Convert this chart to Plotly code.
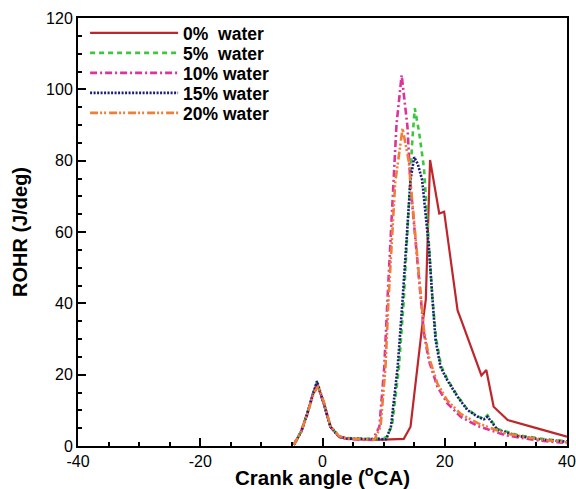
import plotly.graph_objects as go

# ---- data ----
x_0 = [-4.7, -3.5, -2.5, -1.5, -0.9, 0.2, 1.3, 2.7, 4, 6, 8, 10, 12, 13.3, 14.4, 15.5, 16.3, 16.9, 17.3, 17.6,
       19.1, 19.9, 22.1, 22.7, 26.0, 26.8, 28.0, 30.3, 35, 40]
y_0 = [0.3, 4, 9, 15, 17.6, 12, 5.4, 2.6, 2.0, 1.8, 1.8, 1.8, 1.8, 2.0, 5.4, 22, 33.5, 41, 65, 80.2,
       65.2, 65.7, 38, 35.3, 19.8, 21.3, 11, 7.3, 5.0, 2.6]

x_5 = [-4.7, -3.5, -2.5, -1.5, -0.9, 0.2, 1.3, 2.7, 4, 6, 8, 10, 10.6, 11.4, 12.5, 13.3, 14.7, 15.1, 15.8, 16.6,
       17.0, 17.4, 18.0, 18.6, 19.4, 20.4, 22.1, 23.7, 25.4, 26.4, 27.0, 28.6, 32, 36, 40]
y_5 = [0.3, 4, 9, 15, 17.8, 12, 5.4, 2.6, 2.2, 2.0, 2.0, 2.2, 2.6, 6, 22, 41, 86, 94.7, 88, 78,
       68, 56, 41, 30, 22.5, 18.8, 14, 10.3, 8.3, 7.6, 8.6, 4.8, 3.0, 2.0, 1.3]

x_10 = [-4.7, -3.5, -2.5, -1.5, -0.8, 0.2, 1.3, 2.7, 4, 6, 8.2, 9.3, 10.1, 10.6, 11.7, 12.1, 12.95, 13.9, 14.4,
        15.3, 16.1, 16.6, 17.4, 18.8, 20.4, 22.6, 25.4, 30, 35, 40]
y_10 = [0.3, 4, 9, 15, 17.0, 12, 5.4, 2.6, 2.0, 1.9, 1.7, 5.4, 22, 40, 74, 90, 104, 89.5, 73,
        55, 41, 31.6, 24, 16.6, 12, 8.2, 5.6, 3.0, 1.6, 0.8]

x_15 = [-4.7, -3.5, -2.5, -1.5, -0.9, 0.2, 1.3, 2.7, 4, 6, 8, 10, 10.4, 11.2, 12.3, 13.1, 14.4, 15.0, 15.6, 16.3,
        17.4, 18.0, 18.5, 19.3, 20.4, 22.1, 23.7, 25.4, 26.4, 27.0, 28.6, 32, 36, 40]
y_15 = [0.3, 4, 9, 15, 18.2, 12, 5.4, 2.6, 2.1, 2.0, 2.0, 2.0, 1.9, 5.4, 22.2, 41, 74.6, 81, 79, 74.6,
        55.9, 41, 29.7, 22.2, 18.5, 13.8, 10.1, 8.2, 7.5, 8.2, 4.6, 2.8, 1.8, 1.2]

x_20 = [-4.7, -3.5, -2.5, -1.5, -0.7, 0.3, 1.3, 2.7, 4, 6, 8.5, 9.5, 10.3, 10.8, 11.9, 13.1, 14.1, 14.5,
        15.3, 16.1, 16.6, 17.4, 18.8, 20.4, 22.6, 25.4, 30, 35, 40]
y_20 = [0.3, 4, 9, 14.5, 16.8, 12, 5.6, 2.8, 2.1, 2.0, 1.8, 5.4, 22, 41, 74, 89, 80, 72,
        56, 42, 32.5, 25, 17.5, 12.8, 9, 6.4, 3.5, 2.0, 1.0]

series_names = ["0%\u00a0\u00a0water", "5%\u00a0\u00a0water", "10% water", "15% water", "20% water"]
series_x = [x_0, x_5, x_10, x_15, x_20]
series_y = [y_0, y_5, y_10, y_15, y_20]
colors = ["#BE262C", "#3CC83C", "#DC339C", "#1C1C7A", "#F07E36"]
dashes = ["solid", "5px,4px", "7px,3px,2px,3px", "2px,1.5px", "8px,2px,2px,2px,2px,3px"]
widths = [2.2, 2.6, 2.6, 2.6, 2.6]

x_ticks = [-40, -20, 0, 20, 40]
x_ticktext = ["-40", "-20", "0", "20", "40"]
y_ticks = [0, 20, 40, 60, 80, 100, 120]

FONT = "Liberation Sans, Arial, sans-serif"
PLOT_TOP, PLOT_H = 18, 428
legend_rows_px = [33, 53, 73, 93, 113]

fig = go.Figure()
legend_layout = {}
for i, (nm, xs, ys, c, d, w) in enumerate(zip(series_names, series_x, series_y, colors, dashes, widths)):
    key = "legend" if i == 0 else f"legend{i + 1}"
    fig.add_trace(go.Scatter(x=xs, y=ys, mode="lines", name=nm, legend=key,
                             line=dict(color=c, dash=d, width=w)))
    legend_layout[key] = dict(
        x=0.0145, y=1 - (legend_rows_px[i] - PLOT_TOP) / PLOT_H,
        xanchor="left", yanchor="middle",
        bgcolor="rgba(0,0,0,0)", borderwidth=0,
        font=dict(family=FONT, size=17.5, color="black", weight="bold"),
        itemwidth=88,
    )

fig.update_layout(
    width=576, height=489,
    margin=dict(l=78, r=9, t=18, b=43),
    paper_bgcolor="white", plot_bgcolor="white",
    font=dict(family=FONT, color="black"),
    showlegend=True,
    **legend_layout,
)
fig.update_xaxes(
    range=[-40, 40], tickvals=x_ticks, ticktext=x_ticktext,
    ticks="inside", ticklen=8, tickwidth=2, tickcolor="black",
    minor=dict(ticks="inside", ticklen=4, tickwidth=1.5, dtick=5, tick0=0, tickcolor="black"),
    showline=True, linecolor="black", linewidth=2, mirror=True,
    showgrid=False, zeroline=False,
    tickfont=dict(size=16, family=FONT),
    title=dict(text="Crank angle (<sup>o</sup>CA)", font=dict(size=20.5, family=FONT, weight="bold"), standoff=2),
    automargin=False,
)
fig.update_yaxes(
    range=[0, 120], tickvals=y_ticks,
    ticks="inside", ticklen=8, tickwidth=2, tickcolor="black",
    minor=dict(ticks="inside", ticklen=4, tickwidth=1.5, dtick=5, tick0=0, tickcolor="black"),
    showline=True, linecolor="black", linewidth=2, mirror=True,
    showgrid=False, zeroline=False,
    tickfont=dict(size=16, family=FONT),
    title=dict(text="ROHR (J/deg)", font=dict(size=20, family=FONT, weight="bold"), standoff=13),
    automargin=False,
)

fig.write_html("out.html")
